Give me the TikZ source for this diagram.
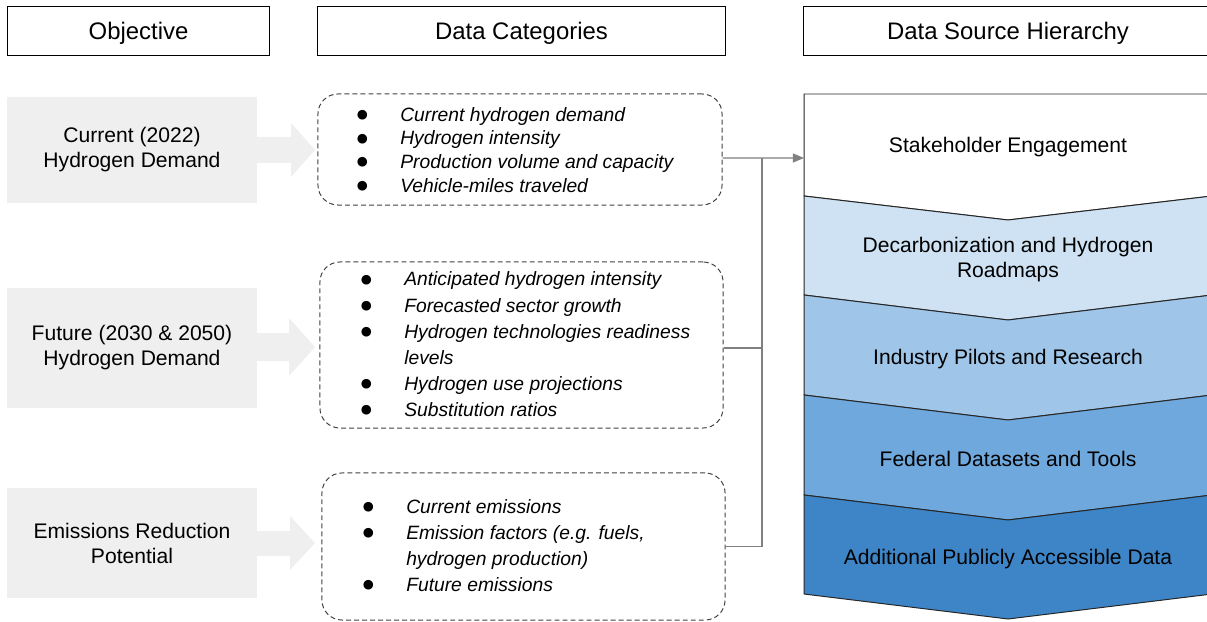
\documentclass[tikz,border=0pt]{standalone}
\usepackage{fontspec}
\setmainfont{Liberation Sans}
\newfontfamily\symfont{DejaVu Sans}
\usepackage{tikz}
\usetikzlibrary{arrows.meta,calc}

\definecolor{objgray}{HTML}{EFEFEF}
\definecolor{blueA}{HTML}{CFE2F3}
\definecolor{blueB}{HTML}{9FC5E8}
\definecolor{blueC}{HTML}{6FA8DC}
\definecolor{blueD}{HTML}{3D85C6}

\newcommand{\itm}[1]{\makebox[31pt][l]{\makebox[8pt][c]{\raisebox{2pt}{\symfont\fontsize{9pt}{9pt}\selectfont ●}}}\textit{#1}}
\newcommand{\cnt}[1]{\hspace*{31pt}\textit{#1}}

\begin{document}
\begin{tikzpicture}[x=0.025cm,y=-0.025cm,
    head/.style={draw=black,line width=0.7pt,fill=white,font=\fontsize{17pt}{20pt}\selectfont,minimum height=1.2cm,inner sep=0pt,text height=12.2pt,text depth=0pt},
    objbox/.style={fill=objgray,font=\fontsize{15pt}{17.8pt}\selectfont,align=center,minimum width=6.25cm,inner sep=0pt},
    catbox/.style={draw=black!75,line width=0.7pt,dash pattern=on 3.5pt off 2.2pt,rounded corners=0.5cm,inner sep=0pt},
    catlist/.style={anchor=west,align=left,inner sep=0pt,font=\fontsize{13.7pt}{18.6pt}\selectfont},
    layer/.style={draw=black!85,line width=0.7pt},
    laytext/.style={font=\fontsize{15pt}{17.8pt}\selectfont,align=center},
    link/.style={draw=black!50,line width=0.8pt}]
        \useasboundingbox (0,0) rectangle (1207,622);
        % Column headers
        \node[head,minimum width=6.525cm] (hobj) at (138.5,31) {Objective};
        \node[head,minimum width=10.175cm] (hcat) at (521.5,31) {Data Categories};
        \node[head,minimum width=10.2cm] (hsrc) at (1008,31) {Data Source Hierarchy};
        % Objectives
        \node[objbox,minimum height=2.65cm] (obj1) at (132,150) {Current (2022)\\Hydrogen Demand};
        \node[objbox,minimum height=3cm] (obj2) at (132,348) {Future (2030 \& 2050)\\Hydrogen Demand};
        \node[objbox,minimum height=2.75cm] (obj3) at (132,543) {Emissions Reduction\\Potential};
        % Gray arrows
        \fill[objgray] (255,137) -- (291,137) -- (291,123) -- (315,150) -- (291,177) -- (291,163) -- (255,163) -- cycle;
        \fill[objgray] (255,333) -- (289,333) -- (289,318) -- (315,347) -- (289,376) -- (289,361) -- (255,361) -- cycle;
        \fill[objgray] (255,531) -- (290,531) -- (290,516) -- (315,543) -- (290,570) -- (290,556) -- (255,556) -- cycle;
        % Data categories
        \node[catbox,minimum width=10.1cm,minimum height=2.775cm] (cat1) at (520,149.5) {};
        \node[catbox,minimum width=10.075cm,minimum height=4.15cm] (cat2) at (521.5,345) {};
        \node[catbox,minimum width=10.075cm,minimum height=3.675cm] (cat3) at (523.5,546.5) {};
        \node[catlist,font=\fontsize{13.7pt}{16.9pt}\selectfont] (list1) at (356.4,150) {\itm{Current hydrogen demand}\\\itm{Hydrogen intensity}\\\itm{Production volume and capacity}\\\itm{Vehicle-miles traveled}};
        \node[catlist] (list2) at (360.4,344.5) {\itm{Anticipated hydrogen intensity}\\\itm{Forecasted sector growth}\\\itm{Hydrogen technologies readiness}\\\cnt{levels}\\\itm{Hydrogen use projections}\\\itm{Substitution ratios}};
        \node[catlist] (list3) at (362.4,545.5) {\itm{Current emissions}\\\itm{Emission factors (e.g. fuels,}\\\cnt{hydrogen production)}\\\itm{Future emissions}};
        % Hierarchy layers
        \draw[layer,fill=white] (804,94) -- (1212,94) -- (1212,196) -- (1008,220) -- (804,196) -- cycle;
        \draw[layer,fill=blueA] (804,196) -- (1008,220) -- (1212,196) -- (1212,295) -- (1008,320) -- (804,295) -- cycle;
        \draw[layer,fill=blueB] (804,295) -- (1008,320) -- (1212,295) -- (1212,395) -- (1008,420) -- (804,395) -- cycle;
        \draw[layer,fill=blueC] (804,395) -- (1008,420) -- (1212,395) -- (1212,495) -- (1008,520) -- (804,495) -- cycle;
        \draw[layer,fill=blueD] (804,495) -- (1008,520) -- (1212,495) -- (1212,594) -- (1008,619) -- (804,594) -- cycle;
        \node[laytext] (lay1) at (1008,147) {Stakeholder Engagement};
        \node[laytext] (lay2) at (1008,260) {Decarbonization and Hydrogen\\Roadmaps};
        \node[laytext] (lay3) at (1008,359) {Industry Pilots and Research};
        \node[laytext] (lay4) at (1008,459) {Federal Datasets and Tools};
        \node[laytext] (lay5) at (1008,559) {Additional Publicly Accessible Data};
        % Connectors
        \coordinate (hierin) at (804,158);
        \coordinate (bus) at (762,158);
        \draw[link,-{Triangle[length=8pt,width=6.5pt]}] ($(cat1.east)+(0,8.5)$) -- (hierin);
        \draw[link] ($(cat2.east)+(0,3)$) -- ($(cat2.east -| bus)+(0,3)$);
        \draw[link] (cat3.east) -| (bus);
    \end{tikzpicture}
\end{document}
